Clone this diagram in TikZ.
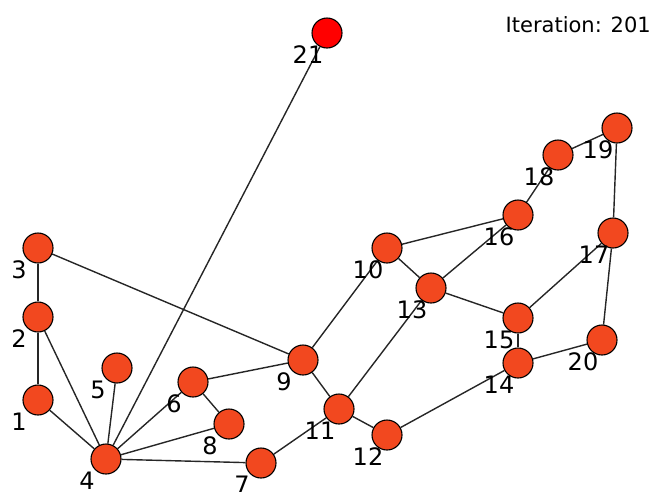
\documentclass[tikz,border=0pt]{standalone}
\usepackage{fontspec}
\setmainfont{DejaVu Sans}
\usetikzlibrary{calc, backgrounds}
\definecolor{vtxorange}{HTML}{F2481F}
\definecolor{vtxred}{HTML}{FF0000}

\begin{document}
\begin{tikzpicture}[
      x=1pt, y=-1pt,
      vtx/.style={circle, draw=black, line width=1.1pt, fill=vtxorange,
                  minimum size=30pt, inner sep=0pt},
      lbl/.style={inner sep=0pt, font=\fontsize{24}{24}\selectfont},
      edge/.style={draw=black!85, line width=1.4pt}
    ]
    \useasboundingbox (0,0) rectangle (652,491);
    % vertices
    \foreach \n/\x/\y in {1/38/400, 2/38/317, 3/38/248, 4/106/459, 5/117/368,
        6/193/382, 7/261/463, 8/229/424, 9/303/360, 10/387/248, 11/339/409,
        12/387/435, 13/431/288, 14/518/363, 15/518/318, 16/518/215,
        17/613/233, 18/558/155, 19/617/128, 20/602/340}
      \node[vtx] (v\n) at (\x,\y) {};
    \node[vtx, fill=vtxred] (v21) at (327,33) {};
    % edges
    \begin{pgfonlayer}{background}
      \foreach \a/\b in {21/4, 3/2, 3/9, 2/1, 2/4, 1/4, 5/4, 6/4, 6/9, 6/8,
          8/4, 7/4, 7/11, 9/10, 9/11, 11/13, 11/12, 12/14, 14/15, 14/20,
          15/13, 15/17, 13/10, 13/16, 10/16, 16/18, 18/19, 19/17, 17/20}
        \draw[edge] (v\a) -- (v\b);
    \end{pgfonlayer}
    % labels
    \foreach \n in {1,...,21}
      \node[lbl] (l\n) at ($(v\n)+(-19,22)$) {\n};
    \node[anchor=east, inner sep=0pt, font=\fontsize{21}{21}\selectfont]
      (iter) at (651,25) {Iteration: 201};
  \end{tikzpicture}
\end{document}
